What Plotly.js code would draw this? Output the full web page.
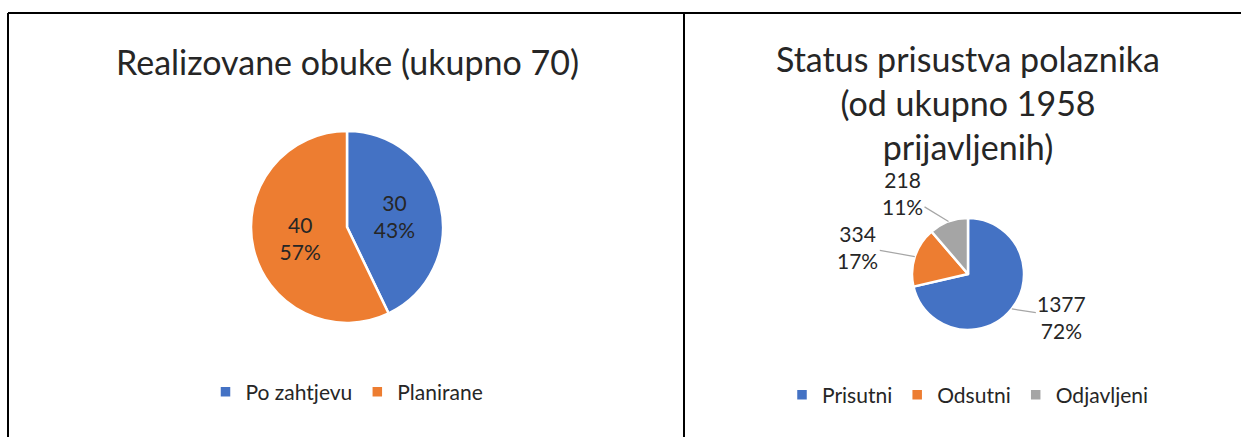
<!DOCTYPE html>
<html>
<head>
<meta charset="utf-8">
<script src="https://cdn.plot.ly/plotly-3.0.1.min.js"></script>
<style>html,body{margin:0;padding:0;background:#fff;}#chart{width:1241px;height:437px;}</style>
</head>
<body>
<div id="chart"></div>
<script>
// ---- data ----
const trainingLabels = ['Po zahtjevu', 'Planirane'];
const trainingValues = [30, 40];
const trainingTitle = 'Realizovane obuke (ukupno 70)';

const attendanceLabels = ['Prisutni', 'Odsutni', 'Odjavljeni'];
const attendanceValues = [1377, 334, 218];
const attendancePercents = ['72%', '17%', '11%'];
const attendanceTitle = 'Status prisustva polaznika<br>(od ukupno 1958<br>prijavljenih)';

const colors3 = ['#4472C4', '#ED7D31', '#A5A5A5'];

// ---- layout constants ----
const W = 1241, H = 437;
const FONT = 'Lato, "Open Sans", sans-serif';
const pie1 = {cx: 347, cy: 227, r: 96};
const pie2 = {cx: 968, cy: 274, r: 56};
const labelShift = [[50, 8], [-57, -10], [-46, -28]];

function dom(p) {
  return {x: [(p.cx - p.r) / W, (p.cx + p.r) / W], y: [1 - (p.cy + p.r) / H, 1 - (p.cy - p.r) / H]};
}

const traces = [
  {
    type: 'pie', labels: trainingLabels, values: trainingValues,
    domain: dom(pie1), sort: false, direction: 'clockwise', rotation: 0,
    marker: {colors: colors3.slice(0, 2), line: {color: '#fff', width: 2.5}},
    texttemplate: '%{value}<br>%{percent:.0%}', textposition: 'inside',
    insidetextorientation: 'horizontal',
    insidetextfont: {family: FONT, size: 21, color: '#262626'},
    legend: 'legend', hoverinfo: 'label+value+percent'
  },
  {
    type: 'pie', labels: attendanceLabels, values: attendanceValues,
    domain: dom(pie2), sort: false, direction: 'clockwise', rotation: 0,
    marker: {colors: colors3, line: {color: '#fff', width: 2.5}},
    textinfo: 'none', textposition: 'none',
    legend: 'legend2', hoverinfo: 'label+value'
  }
];

// leader-line labels for the second pie, positioned from the data angles
const total2 = attendanceValues.reduce((a, b) => a + b, 0);
let cum = 0;
const annotations = [];
attendanceValues.forEach((v, i) => {
  const mid = (cum + v / 2) / total2;
  cum += v;
  const th = mid * 2 * Math.PI;
  const ex = pie2.cx + pie2.r * Math.sin(th);
  const ey = pie2.cy - pie2.r * Math.cos(th);
  annotations.push({
    x: ex / W, y: 1 - ey / H, xref: 'paper', yref: 'paper',
    text: v + '<br>' + attendancePercents[i],
    showarrow: true, arrowhead: 0, arrowwidth: 1.2, arrowcolor: '#A6A6A6', standoff: 0,
    ax: labelShift[i][0], ay: labelShift[i][1],
    font: {family: FONT, size: 21, color: '#262626'}
  });
});

annotations.push({
  x: pie1.cx / W, y: 1 - 61 / H, xref: 'paper', yref: 'paper', showarrow: false,
  text: trainingTitle, xanchor: 'center', yanchor: 'middle',
  font: {family: FONT, size: 34, color: '#262626'}
});
annotations.push({
  x: pie2.cx / W, y: 1 - 102 / H, xref: 'paper', yref: 'paper', showarrow: false,
  text: attendanceTitle, xanchor: 'center', yanchor: 'middle',
  font: {family: FONT, size: 34, color: '#262626'}
});

const shapes = [
  {type: 'line', xref: 'paper', yref: 'paper', x0: 8 / W, x1: 1, y0: 1 - 13 / H, y1: 1 - 13 / H, line: {color: '#000', width: 2}},
  {type: 'line', xref: 'paper', yref: 'paper', x0: 8 / W, x1: 8 / W, y0: 0, y1: 1 - 13 / H, line: {color: '#000', width: 2}},
  {type: 'line', xref: 'paper', yref: 'paper', x0: 684 / W, x1: 684 / W, y0: 0, y1: 1 - 13 / H, line: {color: '#000', width: 2}}
];

const layout = {
  width: W, height: H, margin: {l: 0, r: 0, t: 0, b: 0},
  paper_bgcolor: '#fff', plot_bgcolor: '#fff',
  font: {family: FONT, color: '#404040'},
  showlegend: true,
  legend: {orientation: 'h', x: pie1.cx / W, y: 1 - 392 / H, xanchor: 'center', yanchor: 'middle',
           font: {family: FONT, size: 21, color: '#262626'}, bgcolor: 'rgba(0,0,0,0)'},
  legend2: {orientation: 'h', x: pie2.cx / W, y: 1 - 395 / H, xanchor: 'center', yanchor: 'middle',
            font: {family: FONT, size: 21, color: '#262626'}, bgcolor: 'rgba(0,0,0,0)'},
  annotations: annotations, shapes: shapes
};

Plotly.newPlot('chart', traces, layout, {displayModeBar: false, staticPlot: true});
</script>
</body>
</html>
